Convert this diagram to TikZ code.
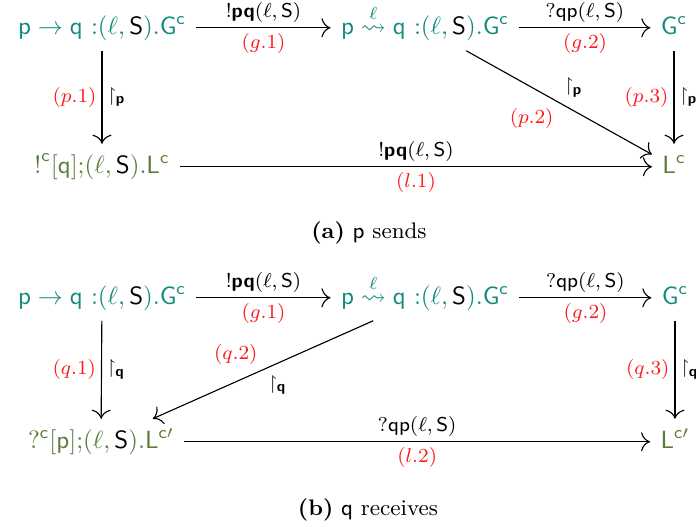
\documentclass[tikz,border=0pt]{standalone}
\usepackage{amsmath,amssymb}
\usepackage{xcolor}
\usepackage{tikz}
\usetikzlibrary{arrows.meta}
\definecolor{globteal}{HTML}{138A7E}
\definecolor{locgreen}{HTML}{5B7B3A}
\definecolor{rulered}{HTML}{FF1A1A}
\newcommand{\ps}[1]{\mathsf{#1}}
\newcommand{\prj}[1]{\upharpoonright_{\textsf{\textbf{#1}}}}
\newcommand{\blk}[1]{\textcolor{black}{#1}}

\begin{document}
\begin{tikzpicture}[x=0.4pt, y=-0.4pt,
    every node/.style={inner sep=4pt},
    gty/.style={anchor=base, text=globteal, text height=7.5pt, text depth=2.5pt},
    lty/.style={anchor=base, text=locgreen, text height=7.5pt, text depth=2.5pt},
    lbl/.style={font=\footnotesize, inner sep=2pt, text=black},
    rule/.style={font=\footnotesize, inner sep=2pt, text=rulered},
    arr/.style={-{Computer Modern Rightarrow[scale=1.4]}, line width=0.45pt},
    capt/.style={anchor=base, font=\small}
]
\useasboundingbox (0,0) rectangle (696,527);
\node[gty] (a1) at (102,34) {$\ps{p}\to\ps{q}\ {:}(\ell,\blk{\ps{S}}).\ps{G}^{\ps{c}}$};
\node[gty] (b1) at (425,34) {$\ps{p}\overset{\ell}{\rightsquigarrow}\ps{q}\ {:}(\ell,\blk{\ps{S}}).\ps{G}^{\ps{c}}$};
\node[gty] (c1) at (674,34) {$\ps{G}^{\ps{c}}$};
\node[lty] (d1) at (102,173) {$\ps{!}^{\ps{c}}[\ps{q}]{;}(\ell,\blk{\ps{S}}).\ps{L}^{\ps{c}}$};
\node[lty] (e1) at (674,173) {$\ps{L}^{\ps{c}}$};
\draw[arr] (a1) -- node[lbl,above]{$!\textsf{\textbf{pq}}(\ell,\textsf{S})$} node[rule,below]{$(g.1)$} (b1);
\draw[arr] (b1) -- node[lbl,above]{$?\textsf{qp}(\ell,\textsf{S})$} node[rule,below]{$(g.2)$} (c1);
\draw[arr] (a1) -- node[rule,left]{$(p.1)$} node[lbl,right]{$\prj{p}$} (d1);
\draw[arr] (b1) -- node[lbl,above right]{$\prj{p}$} node[rule,below left]{$(p.2)$} (e1);
\draw[arr] (c1) -- node[rule,left]{$(p.3)$} node[lbl,right]{$\prj{p}$} (e1);
\draw[arr] (d1) -- node[lbl,above]{$!\textsf{\textbf{pq}}(\ell,\textsf{S})$} node[rule,below]{$(l.1)$} (e1);
\node[capt] (capa) at (369,238) {\textbf{(a)} \textsf{p} sends};

\node[gty] (a2) at (102,304) {$\ps{p}\to\ps{q}\ {:}(\ell,\blk{\ps{S}}).\ps{G}^{\ps{c}}$};
\node[gty] (b2) at (425,304) {$\ps{p}\overset{\ell}{\rightsquigarrow}\ps{q}\ {:}(\ell,\blk{\ps{S}}).\ps{G}^{\ps{c}}$};
\node[gty] (c2) at (675,304) {$\ps{G}^{\ps{c}}$};
\node[lty] (d2) at (101,448) {$?^{\ps{c}}[\ps{p}]{;}(\ell,\blk{\ps{S}}).\ps{L}^{\ps{c}\prime}$};
\node[lty] (e2) at (675,448) {$\ps{L}^{\ps{c}\prime}$};
\draw[arr] (a2) -- node[lbl,above]{$!\textsf{\textbf{pq}}(\ell,\textsf{S})$} node[rule,below]{$(g.1)$} (b2);
\draw[arr] (b2) -- node[lbl,above]{$?\textsf{qp}(\ell,\textsf{S})$} node[rule,below]{$(g.2)$} (c2);
\draw[arr] (a2) -- node[rule,left]{$(q.1)$} node[lbl,right]{$\prj{q}$} (d2);
\draw[arr] (b2) -- node[rule,above left]{$(q.2)$} node[lbl,below right]{$\prj{q}$} (d2);
\draw[arr] (c2) -- node[rule,left]{$(q.3)$} node[lbl,right]{$\prj{q}$} (e2);
\draw[arr] (d2) -- node[lbl,above]{$?\textsf{qp}(\ell,\textsf{S})$} node[rule,below]{$(l.2)$} (e2);
\node[capt] (capb) at (368,515) {\textbf{(b)} \textsf{q} receives};
\end{tikzpicture}
\end{document}
